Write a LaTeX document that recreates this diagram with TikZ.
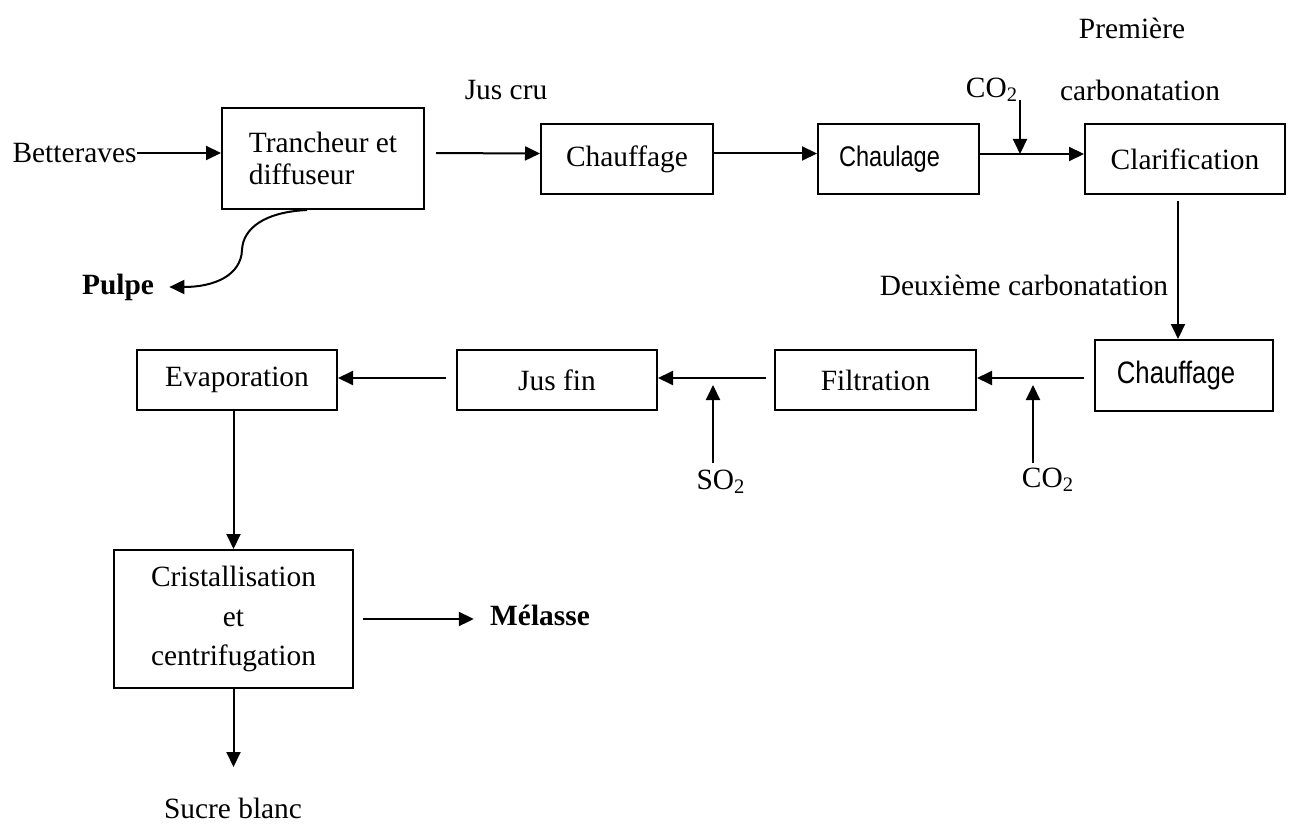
\documentclass[tikz,border=0pt]{standalone}
\usepackage{fontspec}
\setmainfont{Liberation Serif}
\newfontfamily\narrowsans[FakeStretch=0.83]{Liberation Sans}
\usetikzlibrary{arrows.meta}
\begin{document}
\begin{tikzpicture}[x=0.5pt,y=-0.5pt,
  font=\fontsize{14.7}{17}\selectfont,
  box/.style={draw, line width=1pt, inner sep=0pt, align=center},
  arr/.style={line width=1pt, -{Triangle[length=7.5pt,width=7pt]}},
  sansfont/.style={font=\fontsize{15.5}{18}\selectfont\narrowsans},
  lbl/.style={inner sep=0pt}]
\useasboundingbox (0,0) rectangle (1293,823);

% boxes
\node[box, align=left, minimum width=101pt, minimum height=50.5pt,
      font=\fontsize{14.7}{16}\selectfont] (tranch) at (323,158.5) {Trancheur et\\diffuseur};
\node[box, minimum width=86pt, minimum height=35pt] (chauf1) at (627,159) {Chauffage};
\node[box, font=\fontsize{14.2}{17}\selectfont\narrowsans, minimum width=80.5pt, minimum height=35pt] (chaul) at (898.5,159) {Chaulage\hspace*{9pt}};
\node[box, minimum width=100pt, minimum height=35pt] (clar) at (1185,159) {Clarification};
\node[box, sansfont, minimum width=89pt, minimum height=35.5pt] (chauf2) at (1184,375.5) {\raisebox{3pt}{Chauffage}\hspace*{8pt}};
\node[box, minimum width=100.5pt, minimum height=30pt] (filt) at (875.5,380) {Filtration};
\node[box, minimum width=100pt, minimum height=30pt] (jusfin) at (557,380) {Jus fin};
\node[box, minimum width=100pt, minimum height=30pt] (evap) at (237,380) {Evaporation};
\node[box, minimum width=119.5pt, minimum height=69pt,
      font=\fontsize{14.7}{19.75}\selectfont] (crist) at (233.5,619) {Cristallisation\\et\\centrifugation};

% labels
\node[lbl, anchor=east] (bett) at (137,153) {Betteraves};
\node[lbl] (juscru) at (506,90) {Jus cru};
\node[lbl] (co2a) at (992,90) {CO\textsubscript{2}};
\node[lbl] (carb1) at (1140,90) {carbonatation};
\node[lbl] (prem) at (1132,28) {Première};
\node[lbl] (carb2) at (1024,285) {Deuxième carbonatation};
\node[lbl] (co2b) at (1048,480) {CO\textsubscript{2}};
\node[lbl] (so2) at (721,482) {SO\textsubscript{2}};
\node[lbl, font=\fontsize{14.7}{17}\selectfont\bfseries] (pulpe) at (118,287) {Pulpe};
\node[lbl, font=\fontsize{14.7}{17}\selectfont\bfseries] (melasse) at (540,615) {Mélasse};
\node[lbl] (sucre) at (233,808) {Sucre blanc};

% free ends
\coordinate (co2top) at (1020,100);
\coordinate (mix1) at (1020,154);
\coordinate (co2bot) at (1033,463);
\coordinate (co2tip) at (1033,385);
\coordinate (so2bot) at (713,463);
\coordinate (so2tip) at (713,385);
\coordinate (sucretip) at (233.5,767);

% connectors
\draw[arr] (bett.east) -- (bett.east -| tranch.west);
\draw[arr, shorten <=5.5pt] ([yshift=2.75pt]tranch.east) -- ([yshift=2.75pt]chauf1.west);
\draw[arr] ([yshift=2.75pt]chauf1.east) -- ([yshift=2.75pt]chaul.west);
\draw[arr] ([yshift=2.5pt]chaul.east) -- ([yshift=2.5pt]clar.west);
\draw[arr] (co2top) -- (mix1);
\draw[arr, shorten <=3pt] ([xshift=-3.5pt]clar.south) -- ([xshift=-3pt]chauf2.north);
\draw[arr, shorten <=5pt] ([yshift=1pt]chauf2.west |- filt.east) -- ([yshift=1pt]filt.east);
\draw[arr] (co2bot) -- (co2tip);
\draw[arr, shorten <=4pt] ([yshift=1pt]filt.west) -- ([yshift=1pt]jusfin.east);
\draw[arr] (so2bot) -- (so2tip);
\draw[arr, shorten <=5pt] ([yshift=1pt]jusfin.west) -- ([yshift=1pt]evap.east);
\draw[arr] (evap.south -| crist.north) -- (crist.north);
\draw[arr, shorten <=4.5pt, shorten >=8pt] (crist.east) -- (crist.east -| melasse.west);
\draw[arr] (crist.south) -- (sucretip);
\draw[arr, shorten >=7.5pt] ([xshift=-8pt]tranch.south) .. controls (265,212) and (243,228) .. (242,250)
   .. controls (241,275) and (215,287) .. (pulpe.east);
\end{tikzpicture}
\end{document}
